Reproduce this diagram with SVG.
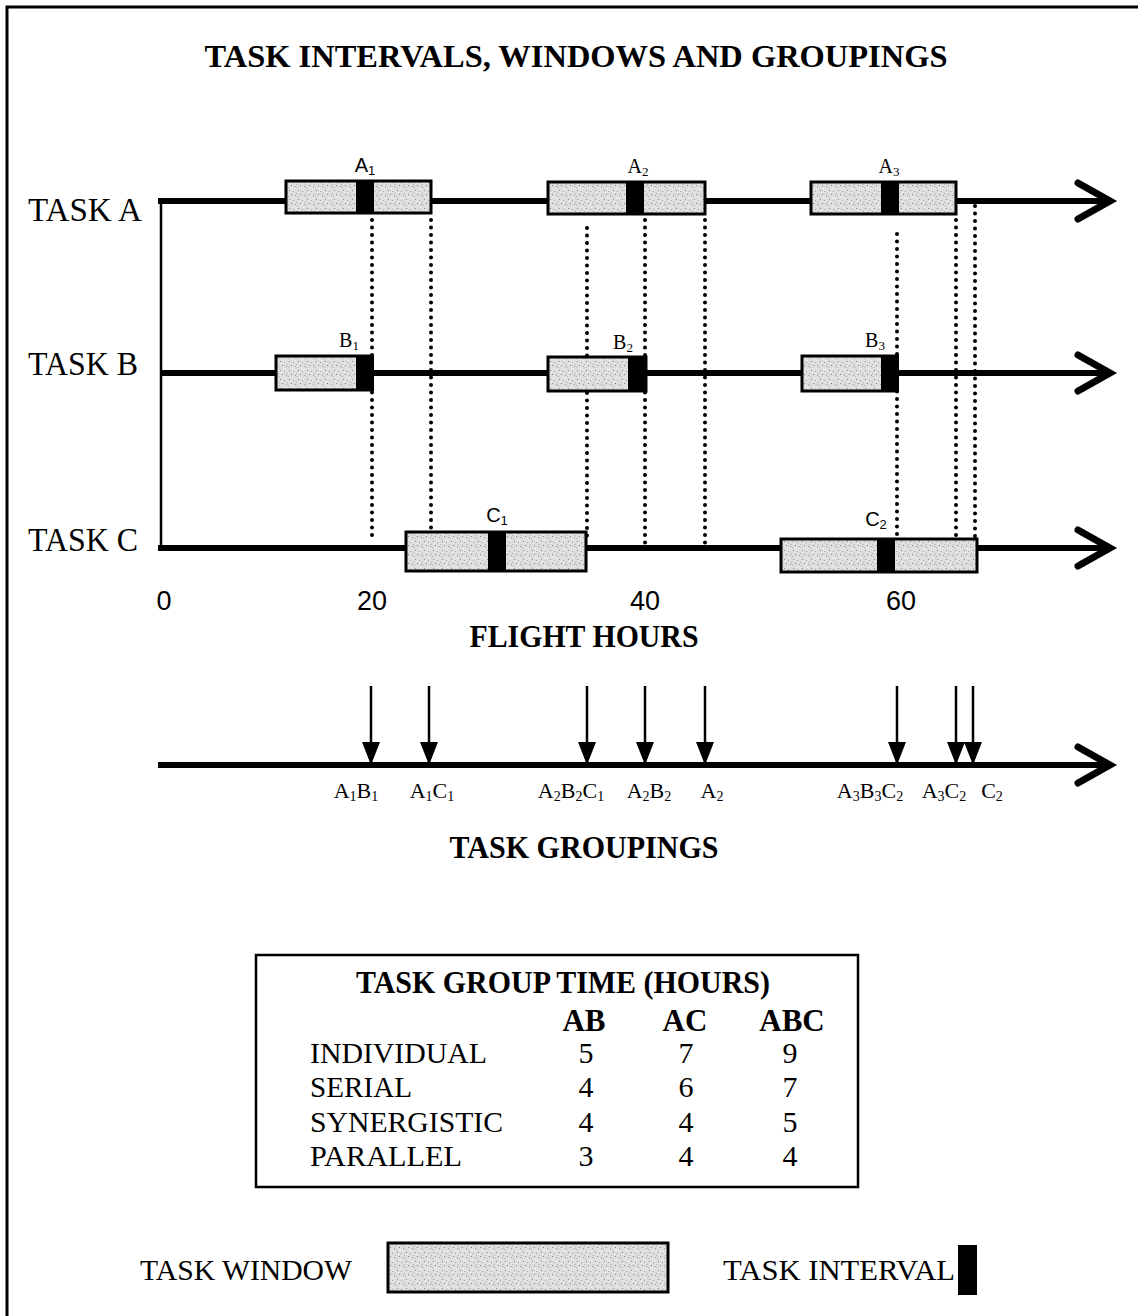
<svg xmlns="http://www.w3.org/2000/svg" width="1138" height="1316" viewBox="0 0 1138 1316">
  <defs>
    <pattern id="speckle" width="9" height="9" patternUnits="userSpaceOnUse">
      <rect width="9" height="9" fill="#dedede"/>
      <rect x="1" y="1" width="1" height="1" fill="#8a8a8a"/>
      <rect x="5" y="2" width="1" height="1" fill="#a5a5a5"/>
      <rect x="3" y="5" width="1" height="1" fill="#808080"/>
      <rect x="7" y="6" width="1" height="1" fill="#999"/>
      <rect x="0" y="7" width="1" height="1" fill="#b5b5b5"/>
      <rect x="6" y="0" width="1" height="1" fill="#f6f6f6"/>
      <rect x="2" y="3" width="1" height="1" fill="#f4f4f4"/>
      <rect x="8" y="4" width="1" height="1" fill="#b0b0b0"/>
      <rect x="4" y="8" width="1" height="1" fill="#f2f2f2"/>
    </pattern>
    <!-- filled arrowhead for the grouping drop lines -->
    <marker id="head" viewBox="0 0 23 18" refX="23" refY="9" markerWidth="23" markerHeight="18" markerUnits="userSpaceOnUse" orient="auto">
      <path d="M0,0 L23,9 L0,18 Z" fill="#000"/>
    </marker>
    <style>
      .serif { font-family: "Liberation Serif", "Times New Roman", serif; fill: #000; }
      .sans { font-family: "Liberation Sans", Arial, sans-serif; fill: #000; }
      .task { font-size: 33px; }
      .num { font-size: 27px; text-anchor: middle; }
      .head { font-size: 31px; font-weight: bold; text-anchor: middle; }
      .lbl { font-size: 20px; text-anchor: middle; }
      .sub { font-size: 13px; }
      .grp { font-size: 22px; text-anchor: middle; }
      .grp .sub { font-size: 14px; }
      .cell { font-size: 30px; }
      .mid { text-anchor: middle; }
      .axis { stroke: #000; stroke-width: 6; fill: none; }
      .chev { stroke: #000; stroke-width: 7; fill: none; stroke-linecap: round; stroke-linejoin: miter; }
      .window { fill: url(#speckle); stroke: #000; stroke-width: 3; }
      .interval { fill: #000; }
      .dots { stroke: #000; stroke-width: 4; stroke-dasharray: 0 7.5; stroke-linecap: round; fill: none; }
      .drop { stroke: #000; stroke-width: 2.5; fill: none; marker-end: url(#head); }
    </style>
  </defs>

  <rect width="1138" height="1316" fill="#fff"/>
  <!-- page frame -->
  <path d="M7,1316 V7 H1138" fill="none" stroke="#000" stroke-width="3"/>

  <text class="serif head" x="576" y="67" font-size="33" textLength="743" lengthAdjust="spacingAndGlyphs">TASK INTERVALS, WINDOWS AND GROUPINGS</text>

  <!-- task timelines -->
  <g id="connectors">
    <path d="M161,201 V548" stroke="#000" stroke-width="2.5" fill="none"/>
    <line class="axis" x1="158" y1="201" x2="1108" y2="201"/>
    <path class="chev" d="M1078,183 L1110,201 L1078,219"/>
    <line class="axis" x1="161" y1="373" x2="1108" y2="373"/>
    <path class="chev" d="M1078,355 L1110,373 L1078,391"/>
    <line class="axis" x1="158" y1="548" x2="1108" y2="548"/>
    <path class="chev" d="M1078,530 L1110,548 L1078,566"/>

    <!-- alignment guides -->
    <line class="dots" x1="372" y1="220" x2="372" y2="540"/>
    <line class="dots" x1="431" y1="220" x2="431" y2="530"/>
    <line class="dots" x1="587" y1="228" x2="587" y2="536"/>
    <line class="dots" x1="645" y1="220" x2="645" y2="548"/>
    <line class="dots" x1="705" y1="220" x2="705" y2="548"/>
    <line class="dots" x1="897" y1="234" x2="897" y2="536"/>
    <line class="dots" x1="956" y1="220" x2="956" y2="540"/>
    <line class="dots" x1="975" y1="206" x2="975" y2="540"/>

    <!-- grouping line -->
    <line class="axis" x1="158" y1="765" x2="1108" y2="765"/>
    <path class="chev" d="M1078,747 L1110,765 L1078,783"/>
    <line class="drop" x1="371" y1="686" x2="371" y2="765"/>
    <line class="drop" x1="429" y1="686" x2="429" y2="765"/>
    <line class="drop" x1="587" y1="686" x2="587" y2="765"/>
    <line class="drop" x1="645" y1="686" x2="645" y2="765"/>
    <line class="drop" x1="705" y1="686" x2="705" y2="765"/>
    <line class="drop" x1="897" y1="686" x2="897" y2="765"/>
    <line class="drop" x1="956" y1="686" x2="956" y2="765"/>
    <line class="drop" x1="973" y1="686" x2="973" y2="765"/>
  </g>

  <!-- row labels -->
  <text class="serif task" x="28" y="221" textLength="114" lengthAdjust="spacingAndGlyphs">TASK A</text>
  <text class="serif task" x="28" y="375" textLength="110" lengthAdjust="spacingAndGlyphs">TASK B</text>
  <text class="serif task" x="28" y="551" textLength="110" lengthAdjust="spacingAndGlyphs">TASK C</text>

  <!-- task A -->
  <g id="A1">
    <rect class="window" x="286" y="181" width="145" height="32"/>
    <rect class="interval" x="356" y="180" width="18" height="34"/>
    <text class="sans lbl" x="365" y="172">A<tspan class="sub" dy="3">1</tspan></text>
  </g>
  <g id="A2">
    <rect class="window" x="548" y="182" width="157" height="32"/>
    <rect class="interval" x="626" y="181" width="18" height="34"/>
    <text class="serif lbl" x="638" y="173">A<tspan class="sub" dy="3">2</tspan></text>
  </g>
  <g id="A3">
    <rect class="window" x="811" y="182" width="145" height="32"/>
    <rect class="interval" x="881" y="181" width="18" height="34"/>
    <text class="serif lbl" x="889" y="173">A<tspan class="sub" dy="3">3</tspan></text>
  </g>

  <!-- task B -->
  <g id="B1">
    <rect class="window" x="276" y="356" width="96" height="34"/>
    <rect class="interval" x="356" y="355" width="18" height="36"/>
    <text class="serif lbl" x="349" y="347">B<tspan class="sub" dy="3">1</tspan></text>
  </g>
  <g id="B2">
    <rect class="window" x="548" y="357" width="98" height="34"/>
    <rect class="interval" x="628" y="356" width="18" height="36"/>
    <text class="serif lbl" x="623" y="349">B<tspan class="sub" dy="3">2</tspan></text>
  </g>
  <g id="B3">
    <rect class="window" x="802" y="356" width="95" height="35"/>
    <rect class="interval" x="881" y="355" width="18" height="37"/>
    <text class="serif lbl" x="875" y="347">B<tspan class="sub" dy="3">3</tspan></text>
  </g>

  <!-- task C -->
  <g id="C1">
    <rect class="window" x="406" y="532" width="180" height="39"/>
    <rect class="interval" x="488" y="531" width="18" height="41"/>
    <text class="sans lbl" x="497" y="522">C<tspan class="sub" dy="3">1</tspan></text>
  </g>
  <g id="C2">
    <rect class="window" x="781" y="539" width="196" height="33"/>
    <rect class="interval" x="877" y="538" width="18" height="35"/>
    <text class="sans lbl" x="876" y="526">C<tspan class="sub" dy="3">2</tspan></text>
  </g>

  <!-- flight hour scale -->
  <text class="sans num" x="164" y="610">0</text>
  <text class="sans num" x="372" y="610">20</text>
  <text class="sans num" x="645" y="610">40</text>
  <text class="sans num" x="901" y="610">60</text>
  <text class="serif head" x="584" y="647" textLength="229" lengthAdjust="spacingAndGlyphs">FLIGHT HOURS</text>

  <!-- grouping labels -->
  <g id="groupings" class="serif">
    <text class="grp" x="356" y="798">A<tspan class="sub" dy="3">1</tspan><tspan dy="-3">B</tspan><tspan class="sub" dy="3">1</tspan></text>
    <text class="grp" x="432" y="798">A<tspan class="sub" dy="3">1</tspan><tspan dy="-3">C</tspan><tspan class="sub" dy="3">1</tspan></text>
    <text class="grp" x="571" y="798">A<tspan class="sub" dy="3">2</tspan><tspan dy="-3">B</tspan><tspan class="sub" dy="3">2</tspan><tspan dy="-3">C</tspan><tspan class="sub" dy="3">1</tspan></text>
    <text class="grp" x="649" y="798">A<tspan class="sub" dy="3">2</tspan><tspan dy="-3">B</tspan><tspan class="sub" dy="3">2</tspan></text>
    <text class="grp" x="712" y="798">A<tspan class="sub" dy="3">2</tspan></text>
    <text class="grp" x="870" y="798">A<tspan class="sub" dy="3">3</tspan><tspan dy="-3">B</tspan><tspan class="sub" dy="3">3</tspan><tspan dy="-3">C</tspan><tspan class="sub" dy="3">2</tspan></text>
    <text class="grp" x="944" y="798">A<tspan class="sub" dy="3">3</tspan><tspan dy="-3">C</tspan><tspan class="sub" dy="3">2</tspan></text>
    <text class="grp" x="992" y="798">C<tspan class="sub" dy="3">2</tspan></text>
  </g>
  <text class="serif head" x="584" y="858" textLength="269" lengthAdjust="spacingAndGlyphs">TASK GROUPINGS</text>

  <!-- group time table -->
  <g id="table">
    <rect x="256" y="955" width="602" height="232" fill="none" stroke="#000" stroke-width="2.5"/>
    <text class="serif head" x="563" y="993" textLength="414" lengthAdjust="spacingAndGlyphs">TASK GROUP TIME (HOURS)</text>
    <text class="serif head" x="584" y="1031">AB</text>
    <text class="serif head" x="685" y="1031">AC</text>
    <text class="serif head" x="792" y="1031">ABC</text>
    <g class="serif cell">
      <text x="310" y="1063" textLength="177" lengthAdjust="spacingAndGlyphs">INDIVIDUAL</text>
      <text x="310" y="1097" textLength="102" lengthAdjust="spacingAndGlyphs">SERIAL</text>
      <text x="310" y="1132" textLength="193" lengthAdjust="spacingAndGlyphs">SYNERGISTIC</text>
      <text x="310" y="1166" textLength="152" lengthAdjust="spacingAndGlyphs">PARALLEL</text>
    </g>
    <g class="serif cell mid">
      <text x="586" y="1063">5</text><text x="686" y="1063">7</text><text x="790" y="1063">9</text>
      <text x="586" y="1097">4</text><text x="686" y="1097">6</text><text x="790" y="1097">7</text>
      <text x="586" y="1132">4</text><text x="686" y="1132">4</text><text x="790" y="1132">5</text>
      <text x="586" y="1166">3</text><text x="686" y="1166">4</text><text x="790" y="1166">4</text>
    </g>
  </g>

  <!-- legend -->
  <g id="legend">
    <text class="serif cell" x="140" y="1280" textLength="212" lengthAdjust="spacingAndGlyphs">TASK WINDOW</text>
    <rect class="window" x="388" y="1243" width="280" height="49"/>
    <text class="serif cell" x="723" y="1280" textLength="232" lengthAdjust="spacingAndGlyphs">TASK INTERVAL</text>
    <rect class="interval" x="958" y="1245" width="19" height="50"/>
  </g>
</svg>
